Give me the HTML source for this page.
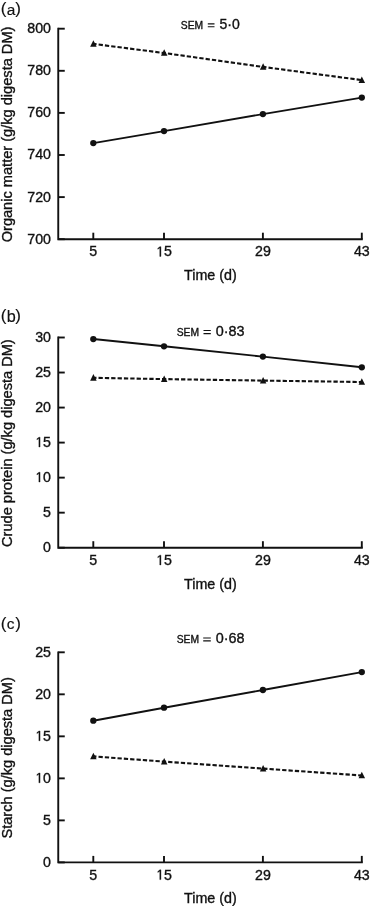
<!DOCTYPE html>
<html><head><meta charset="utf-8"><style>
html,body{margin:0;padding:0;background:#fff;width:370px;height:906px;overflow:hidden}
svg{display:block;will-change:transform;font-family:"Liberation Sans",sans-serif;fill:#111}
text{fill:#111;stroke:#111;stroke-width:0.35px}
text.ns{stroke-width:0.15px}
.g{fill:#111;stroke:#111;stroke-width:0.35px;vector-effect:non-scaling-stroke}
</style></head><body>
<svg width="370" height="906" viewBox="0 0 370 906">
<text class="ns" x="0.7" y="14.10" font-size="17">(</text>
<text class="ns" x="6.8" y="14.50" font-size="15.5">a</text>
<text class="ns" x="15.3" y="14.10" font-size="17">)</text>
<path d="M58.25 27.80 V239.20 H362.8" fill="none" stroke="#111" stroke-width="1.9"/>
<line x1="58.25" y1="28.70" x2="64.75" y2="28.70" stroke="#111" stroke-width="1.9"/>
<text x="27.31" y="33.10" font-size="14.2">800</text>
<line x1="58.25" y1="70.80" x2="64.75" y2="70.80" stroke="#111" stroke-width="1.9"/>
<text x="27.31" y="75.20" font-size="14.2">780</text>
<line x1="58.25" y1="112.90" x2="64.75" y2="112.90" stroke="#111" stroke-width="1.9"/>
<text x="27.31" y="117.30" font-size="14.2">760</text>
<line x1="58.25" y1="155.00" x2="64.75" y2="155.00" stroke="#111" stroke-width="1.9"/>
<text x="27.31" y="159.40" font-size="14.2">740</text>
<line x1="58.25" y1="197.10" x2="64.75" y2="197.10" stroke="#111" stroke-width="1.9"/>
<text x="27.31" y="201.50" font-size="14.2">720</text>
<line x1="58.25" y1="239.20" x2="64.75" y2="239.20" stroke="#111" stroke-width="1.9"/>
<text x="27.31" y="243.60" font-size="14.2">700</text>
<line x1="93.3" y1="239.20" x2="93.3" y2="232.70" stroke="#111" stroke-width="1.9"/>
<text x="89.35" y="256.40" font-size="14.2">5</text>
<line x1="164.0" y1="239.20" x2="164.0" y2="232.70" stroke="#111" stroke-width="1.9"/>
<path transform="translate(156.10 256.40) scale(0.006934 -0.006934)" d="M530 0L530 1220L245 1030L245 1185L545 1409L700 1409L700 0Z" class="g"/><text x="164.00" y="256.40" font-size="14.2">5</text>
<line x1="262.9" y1="239.20" x2="262.9" y2="232.70" stroke="#111" stroke-width="1.9"/>
<text x="255.00" y="256.40" font-size="14.2">29</text>
<line x1="361.8" y1="239.20" x2="361.8" y2="232.70" stroke="#111" stroke-width="1.9"/>
<text x="353.90" y="256.40" font-size="14.2">43</text>
<text x="210.4" y="280.20" font-size="14.3" text-anchor="middle">Time (d)</text>
<text transform="translate(12.4 134.45) rotate(-90)" font-size="14.6" text-anchor="middle">Organic matter (g/kg digesta DM)</text>
<text x="180.8" y="29.1" font-size="10.3">SEM</text>
<path d="M207.8 23.8H214.5M207.8 26.7H214.5" stroke="#111" stroke-width="1.15" fill="none"/>
<text x="219.5" y="28.700000000000003" font-size="14">5·0</text>
<polyline points="93.3,43.9 164.0,53.0 262.9,66.9 361.8,80.1" fill="none" stroke="#111" stroke-width="2.1" stroke-dasharray="4.3 2.05" stroke-dashoffset="1.0"/>
<polyline points="93.3,143.1 164.0,131.1 262.9,114.1 361.8,97.6" fill="none" stroke="#111" stroke-width="1.9"/>
<path d="M93.40 40.20 L96.65 46.75 L90.15 46.75Z" fill="#111"/>
<path d="M164.20 49.30 L167.45 55.85 L160.95 55.85Z" fill="#111"/>
<path d="M263.10 63.20 L266.35 69.75 L259.85 69.75Z" fill="#111"/>
<path d="M361.80 76.40 L365.05 82.95 L358.55 82.95Z" fill="#111"/>
<circle cx="93.3" cy="143.1" r="3.15" fill="#111"/>
<circle cx="164.0" cy="131.1" r="3.15" fill="#111"/>
<circle cx="262.9" cy="114.1" r="3.15" fill="#111"/>
<circle cx="361.8" cy="97.6" r="3.15" fill="#111"/>
<text class="ns" x="0.7" y="321.40" font-size="17">(</text>
<text class="ns" x="6.8" y="321.80" font-size="16.2">b</text>
<text class="ns" x="15.3" y="321.40" font-size="17">)</text>
<path d="M58.25 336.60 V547.70 H362.8" fill="none" stroke="#111" stroke-width="1.9"/>
<line x1="58.25" y1="337.50" x2="64.75" y2="337.50" stroke="#111" stroke-width="1.9"/>
<text x="35.21" y="341.90" font-size="14.2">30</text>
<line x1="58.25" y1="372.53" x2="64.75" y2="372.53" stroke="#111" stroke-width="1.9"/>
<text x="35.21" y="376.93" font-size="14.2">25</text>
<line x1="58.25" y1="407.57" x2="64.75" y2="407.57" stroke="#111" stroke-width="1.9"/>
<text x="35.21" y="411.97" font-size="14.2">20</text>
<line x1="58.25" y1="442.60" x2="64.75" y2="442.60" stroke="#111" stroke-width="1.9"/>
<path transform="translate(35.21 447.00) scale(0.006934 -0.006934)" d="M530 0L530 1220L245 1030L245 1185L545 1409L700 1409L700 0Z" class="g"/><text x="43.10" y="447.00" font-size="14.2">5</text>
<line x1="58.25" y1="477.63" x2="64.75" y2="477.63" stroke="#111" stroke-width="1.9"/>
<path transform="translate(35.21 482.03) scale(0.006934 -0.006934)" d="M530 0L530 1220L245 1030L245 1185L545 1409L700 1409L700 0Z" class="g"/><text x="43.10" y="482.03" font-size="14.2">0</text>
<line x1="58.25" y1="512.67" x2="64.75" y2="512.67" stroke="#111" stroke-width="1.9"/>
<text x="43.10" y="517.07" font-size="14.2">5</text>
<line x1="58.25" y1="547.70" x2="64.75" y2="547.70" stroke="#111" stroke-width="1.9"/>
<text x="43.10" y="552.10" font-size="14.2">0</text>
<line x1="93.3" y1="547.70" x2="93.3" y2="541.20" stroke="#111" stroke-width="1.9"/>
<text x="89.35" y="564.90" font-size="14.2">5</text>
<line x1="164.0" y1="547.70" x2="164.0" y2="541.20" stroke="#111" stroke-width="1.9"/>
<path transform="translate(156.10 564.90) scale(0.006934 -0.006934)" d="M530 0L530 1220L245 1030L245 1185L545 1409L700 1409L700 0Z" class="g"/><text x="164.00" y="564.90" font-size="14.2">5</text>
<line x1="262.9" y1="547.70" x2="262.9" y2="541.20" stroke="#111" stroke-width="1.9"/>
<text x="255.00" y="564.90" font-size="14.2">29</text>
<line x1="361.8" y1="547.70" x2="361.8" y2="541.20" stroke="#111" stroke-width="1.9"/>
<text x="353.90" y="564.90" font-size="14.2">43</text>
<text x="210.4" y="588.70" font-size="14.3" text-anchor="middle">Time (d)</text>
<text transform="translate(12.4 443.10) rotate(-90)" font-size="14.6" text-anchor="middle">Crude protein (g/kg digesta DM)</text>
<text x="176.7" y="336.1" font-size="10.3">SEM</text>
<path d="M203.5 330.5H210.8M203.5 333.6H210.8" stroke="#111" stroke-width="1.15" fill="none"/>
<text x="215.7" y="335.70000000000005" font-size="14.4">0·83</text>
<polyline points="93.3,377.8 164.0,379.1 262.9,380.6 361.8,382.0" fill="none" stroke="#111" stroke-width="2.1" stroke-dasharray="4.3 2.05" stroke-dashoffset="1.13"/>
<polyline points="93.3,339.05 164.0,346.3 262.9,356.6 361.8,367.3" fill="none" stroke="#111" stroke-width="1.9"/>
<path d="M93.40 374.10 L96.65 380.65 L90.15 380.65Z" fill="#111"/>
<path d="M164.20 375.40 L167.45 381.95 L160.95 381.95Z" fill="#111"/>
<path d="M263.10 376.90 L266.35 383.45 L259.85 383.45Z" fill="#111"/>
<path d="M361.80 378.30 L365.05 384.85 L358.55 384.85Z" fill="#111"/>
<circle cx="93.3" cy="339.05" r="3.15" fill="#111"/>
<circle cx="164.0" cy="346.3" r="3.15" fill="#111"/>
<circle cx="262.9" cy="356.6" r="3.15" fill="#111"/>
<circle cx="361.8" cy="367.3" r="3.15" fill="#111"/>
<text class="ns" x="0.7" y="629.00" font-size="17">(</text>
<text class="ns" x="6.8" y="629.40" font-size="15.5">c</text>
<text class="ns" x="15.3" y="629.00" font-size="17">)</text>
<path d="M58.25 651.40 V862.40 H362.8" fill="none" stroke="#111" stroke-width="1.9"/>
<line x1="58.25" y1="652.30" x2="64.75" y2="652.30" stroke="#111" stroke-width="1.9"/>
<text x="35.21" y="656.70" font-size="14.2">25</text>
<line x1="58.25" y1="694.32" x2="64.75" y2="694.32" stroke="#111" stroke-width="1.9"/>
<text x="35.21" y="698.72" font-size="14.2">20</text>
<line x1="58.25" y1="736.34" x2="64.75" y2="736.34" stroke="#111" stroke-width="1.9"/>
<path transform="translate(35.21 740.74) scale(0.006934 -0.006934)" d="M530 0L530 1220L245 1030L245 1185L545 1409L700 1409L700 0Z" class="g"/><text x="43.10" y="740.74" font-size="14.2">5</text>
<line x1="58.25" y1="778.36" x2="64.75" y2="778.36" stroke="#111" stroke-width="1.9"/>
<path transform="translate(35.21 782.76) scale(0.006934 -0.006934)" d="M530 0L530 1220L245 1030L245 1185L545 1409L700 1409L700 0Z" class="g"/><text x="43.10" y="782.76" font-size="14.2">0</text>
<line x1="58.25" y1="820.38" x2="64.75" y2="820.38" stroke="#111" stroke-width="1.9"/>
<text x="43.10" y="824.78" font-size="14.2">5</text>
<line x1="58.25" y1="862.40" x2="64.75" y2="862.40" stroke="#111" stroke-width="1.9"/>
<text x="43.10" y="866.80" font-size="14.2">0</text>
<line x1="93.3" y1="862.40" x2="93.3" y2="855.90" stroke="#111" stroke-width="1.9"/>
<text x="89.35" y="879.60" font-size="14.2">5</text>
<line x1="164.0" y1="862.40" x2="164.0" y2="855.90" stroke="#111" stroke-width="1.9"/>
<path transform="translate(156.10 879.60) scale(0.006934 -0.006934)" d="M530 0L530 1220L245 1030L245 1185L545 1409L700 1409L700 0Z" class="g"/><text x="164.00" y="879.60" font-size="14.2">5</text>
<line x1="262.9" y1="862.40" x2="262.9" y2="855.90" stroke="#111" stroke-width="1.9"/>
<text x="255.00" y="879.60" font-size="14.2">29</text>
<line x1="361.8" y1="862.40" x2="361.8" y2="855.90" stroke="#111" stroke-width="1.9"/>
<text x="353.90" y="879.60" font-size="14.2">43</text>
<text x="210.4" y="903.40" font-size="14.3" text-anchor="middle">Time (d)</text>
<text transform="translate(12.4 757.85) rotate(-90)" font-size="14.6" text-anchor="middle">Starch (g/kg digesta DM)</text>
<text x="176.7" y="642.9" font-size="10.3">SEM</text>
<path d="M203.2 638.0H210.8M203.2 640.9H210.8" stroke="#111" stroke-width="1.15" fill="none"/>
<text x="215.7" y="642.5" font-size="14.4">0·68</text>
<polyline points="93.3,756.4 164.0,761.6 262.9,768.6 361.8,775.5" fill="none" stroke="#111" stroke-width="2.1" stroke-dasharray="4.3 2.05" stroke-dashoffset="1.15"/>
<polyline points="93.3,720.7 164.0,707.7 262.9,690.0 361.8,672.1" fill="none" stroke="#111" stroke-width="1.9"/>
<path d="M93.40 752.70 L96.65 759.25 L90.15 759.25Z" fill="#111"/>
<path d="M164.20 757.90 L167.45 764.45 L160.95 764.45Z" fill="#111"/>
<path d="M263.10 764.90 L266.35 771.45 L259.85 771.45Z" fill="#111"/>
<path d="M361.80 771.80 L365.05 778.35 L358.55 778.35Z" fill="#111"/>
<circle cx="93.3" cy="720.7" r="3.15" fill="#111"/>
<circle cx="164.0" cy="707.7" r="3.15" fill="#111"/>
<circle cx="262.9" cy="690.0" r="3.15" fill="#111"/>
<circle cx="361.8" cy="672.1" r="3.15" fill="#111"/>
</svg>
</body></html>
